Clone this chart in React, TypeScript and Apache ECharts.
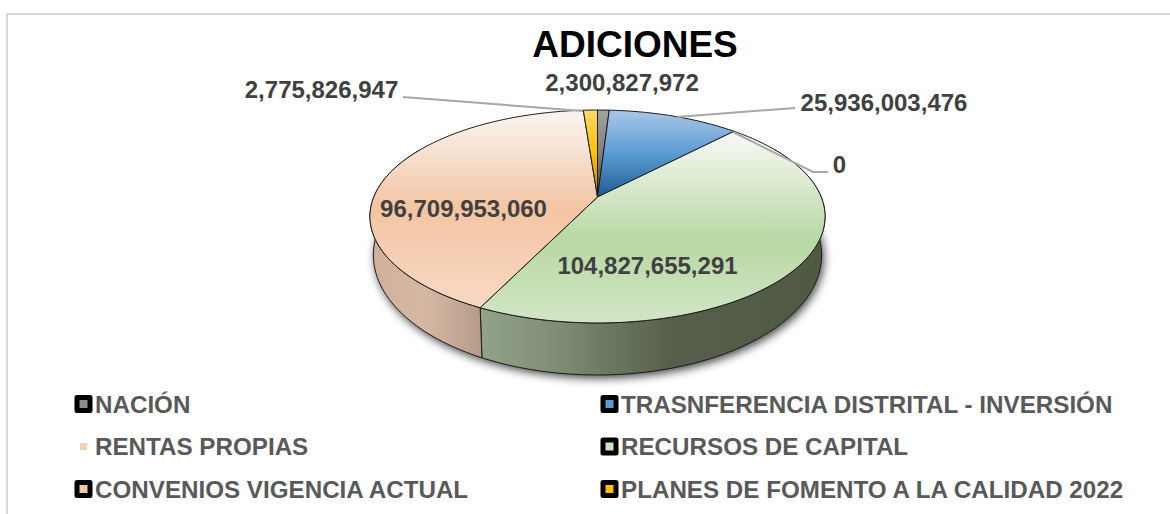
import React, { useEffect, useRef } from "react";
import * as echarts from "echarts";

const titleText = "ADICIONES";
const categories = [
  "NACIÓN",
  "TRASNFERENCIA DISTRITAL - INVERSIÓN",
  "RENTAS PROPIAS",
  "RECURSOS DE CAPITAL",
  "CONVENIOS VIGENCIA ACTUAL",
  "PLANES DE FOMENTO A LA CALIDAD 2022",
];
const values = [2300827972, 25936003476, 0, 104827655291, 96709953060, 2775826947];

const legendColors = ["#8c8c8c", "#5b9bd5", "#f8cfb2", "#cfe3c0", "#f4c6a4", "#ffc000"];

const topStops: [number, string][][] = [
  [[0, "#a3a3a3"], [0.5, "#7f7f7f"], [1, "#4a4a4a"]],
  [[0, "#a9c7e6"], [0.5, "#5b9bd5"], [1, "#1f5c94"]],
  [[0, "#fbe5d6"], [1, "#f4b183"]],
  [[0, "#f8f9f6"], [0.57, "#b8d8a3"], [1, "#d3e6c7"]],
  [[0, "#f9f5f2"], [0.5, "#f3c5a3"], [1, "#f8d9c5"]],
  [[0, "#ffdb66"], [0.5, "#ffc000"], [1, "#b98b00"]],
];
const wallStops: [number, string][][] = [
  [[0, "#777777"], [1, "#444444"]],
  [[0, "#3f6f9e"], [1, "#2a4f73"]],
  [[0, "#d1b19b"], [1, "#b49b8a"]],
  [[0, "#93a389"], [0.25, "#7b8a70"], [0.55, "#565f4c"], [1, "#4f5942"]],
  [[0, "#d0b09a"], [0.5, "#d5b8a3"], [0.8, "#c3a794"], [1, "#b49b8a"]],
  [[0, "#bf9000"], [1, "#8f6c00"]],
];

const labelAnchors: [number, number][] = [
  [622, 82],
  [884, 102.5],
  [839.5, 164.5],
  [647.5, 265.5],
  [463.5, 208],
  [321.5, 89],
];
const leaderLines: number[][][] = [
  [],
  [[795, 108], [677, 117]],
  [[733, 132], [813, 172], [828, 172]],
  [],
  [],
  [[403, 97], [583, 111]],
];

const CX = 597.5;
const CY = 197;
const RX = 223.7;
const RY = 102.9;
const PERSPECTIVE = 0.183;
const TOP_MID_Y = 216.5;
const BASE_MID_Y = 255;
const BASE_SCALE_X = 0.985;
const BASE_SCALE_Y = 1.127;
const DEG = Math.PI / 180;
const WALL_START = 60 * DEG;
const WALL_END = 300 * DEG;

function topPoint(a: number): number[] {
  const X = Math.sin(a);
  const Y = -Math.cos(a);
  const w = 1 - PERSPECTIVE * Y;
  return [CX + (RX * X) / w, CY + (RY * Y) / w];
}

function basePoint(a: number): number[] {
  const [x, y] = topPoint(a);
  return [CX + (x - CX) * BASE_SCALE_X, BASE_MID_Y + (y - TOP_MID_Y) * BASE_SCALE_Y];
}

function arcPoints(a0: number, a1: number, fn: (a: number) => number[] = topPoint): number[][] {
  const n = Math.max(2, Math.ceil(Math.abs(a1 - a0) / DEG));
  const out: number[][] = [];
  for (let i = 0; i <= n; i++) out.push(fn(a0 + ((a1 - a0) * i) / n));
  return out;
}

function gradient(stops: [number, string][], horizontal: boolean) {
  return {
    type: "linear",
    x: 0,
    y: 0,
    x2: horizontal ? 1 : 0,
    y2: horizontal ? 0 : 1,
    colorStops: stops.map(([offset, color]) => ({ offset, color })),
  };
}

const total = values.reduce((s, v) => s + v, 0);
const starts: number[] = [];
values.reduce((acc, v, i) => {
  starts[i] = acc;
  return acc + (v / total) * 2 * Math.PI;
}, 0);

const EDGE = { stroke: "#1a1a1a", lineWidth: 1, lineJoin: "round" };

function renderSlice(index: number) {
  return () => {
    const value = values[index];
    if (!value) return { type: "group", children: [] };
    const a0 = starts[index];
    const a1 = a0 + (value / total) * 2 * Math.PI;
    const children: any[] = [];
    const wa0 = Math.max(a0, WALL_START);
    const wa1 = Math.min(a1, WALL_END);
    if (wa1 > wa0) {
      const upper = arcPoints(wa0, wa1);
      const lower = arcPoints(wa0, wa1, basePoint).reverse();
      children.push({
        type: "polygon",
        shape: { points: upper.concat(lower) },
        style: { fill: gradient(wallStops[index], true), ...EDGE },
      });
    }
    children.push({
      type: "polygon",
      shape: { points: [[CX, CY], ...arcPoints(a0, a1)] },
      style: { fill: gradient(topStops[index], false), ...EDGE },
    });
    return { type: "group", children };
  };
}

function renderShadow() {
  return {
    type: "polygon",
    shape: { points: arcPoints(WALL_START, WALL_END, basePoint) },
    style: {
      fill: "#555555",
      shadowBlur: 10,
      shadowOffsetX: 2,
      shadowOffsetY: 3,
      shadowColor: "rgba(0,0,0,0.75)",
    },
  };
}

function renderLabels() {
  const children: any[] = [];
  values.forEach((v, i) => {
    if (leaderLines[i].length) {
      children.push({
        type: "polyline",
        shape: { points: leaderLines[i] },
        style: { fill: "none", stroke: "#a6a6a6", lineWidth: 2 },
      });
    }
    children.push({
      type: "text",
      x: labelAnchors[i][0],
      y: labelAnchors[i][1],
      style: {
        text: v.toLocaleString("en-US"),
        fill: "#404040",
        font: 'bold 24px "Liberation Sans", Arial, sans-serif',
        align: "center",
        verticalAlign: "middle",
      },
    });
  });
  return { type: "group", children };
}

const smallSquare = "path://M0 0L0 0M13 13L13 13M3 3H10V10H3Z";

function legendData(i: number) {
  if (values[i] === 0) {
    return {
      name: categories[i],
      icon: smallSquare,
      itemStyle: { color: legendColors[i], borderWidth: 0 },
    };
  }
  return {
    name: categories[i],
    icon: "rect",
    itemStyle: {
      color: legendColors[i],
      borderColor: "#000000",
      borderWidth: 5,
      borderJoin: "round",
    },
  };
}

const legendBase = {
  orient: "vertical",
  selectedMode: false,
  itemWidth: 13,
  itemHeight: 13,
  itemGap: 18.5,
  padding: 0,
  textStyle: {
    fontFamily: '"Liberation Sans", Arial, sans-serif',
    fontWeight: "bold",
    fontSize: 24.2,
    lineHeight: 24,
    color: "#595959",
  },
};

export default function App() {
  const ref = useRef<HTMLDivElement>(null);
  useEffect(() => {
    document.body.style.margin = "0";
    const chart = echarts.init(ref.current!, null, { renderer: "svg" });
    chart.setOption({
      animation: false,
      backgroundColor: "#ffffff",
      title: {
        text: titleText,
        left: 635,
        top: 26,
        textAlign: "center",
        padding: 0,
        textStyle: {
          fontFamily: '"Liberation Sans", Arial, sans-serif',
          fontWeight: "bold",
          fontSize: 37,
          color: "#000000",
        },
      },
      legend: [
        { ...legendBase, left: 74.5, top: 392, data: [0, 2, 4].map(legendData) },
        { ...legendBase, left: 600.5, top: 392, data: [1, 3, 5].map(legendData) },
      ],
      graphic: [
        {
          type: "polyline",
          shape: { points: [[7, 514], [7, 14], [1170, 14]] },
          style: { fill: "none", stroke: "#d9d9d9", lineWidth: 2 },
        },
      ],
      series: [
        {
          type: "custom",
          name: "sombra",
          coordinateSystem: "none",
          data: [[total]],
          renderItem: renderShadow,
        },
        ...categories.map((name, i) => ({
          type: "custom",
          name,
          coordinateSystem: "none",
          data: [[values[i]]],
          itemStyle: { color: legendColors[i] },
          renderItem: renderSlice(i),
        })),
        {
          type: "custom",
          name: "etiquetas",
          coordinateSystem: "none",
          data: [[total]],
          renderItem: renderLabels,
        },
      ],
    });
    return () => chart.dispose();
  }, []);
  return (
    <div
      ref={ref}
      style={{ position: "fixed", left: 0, top: 0, width: 1170, height: 514 }}
    />
  );
}
